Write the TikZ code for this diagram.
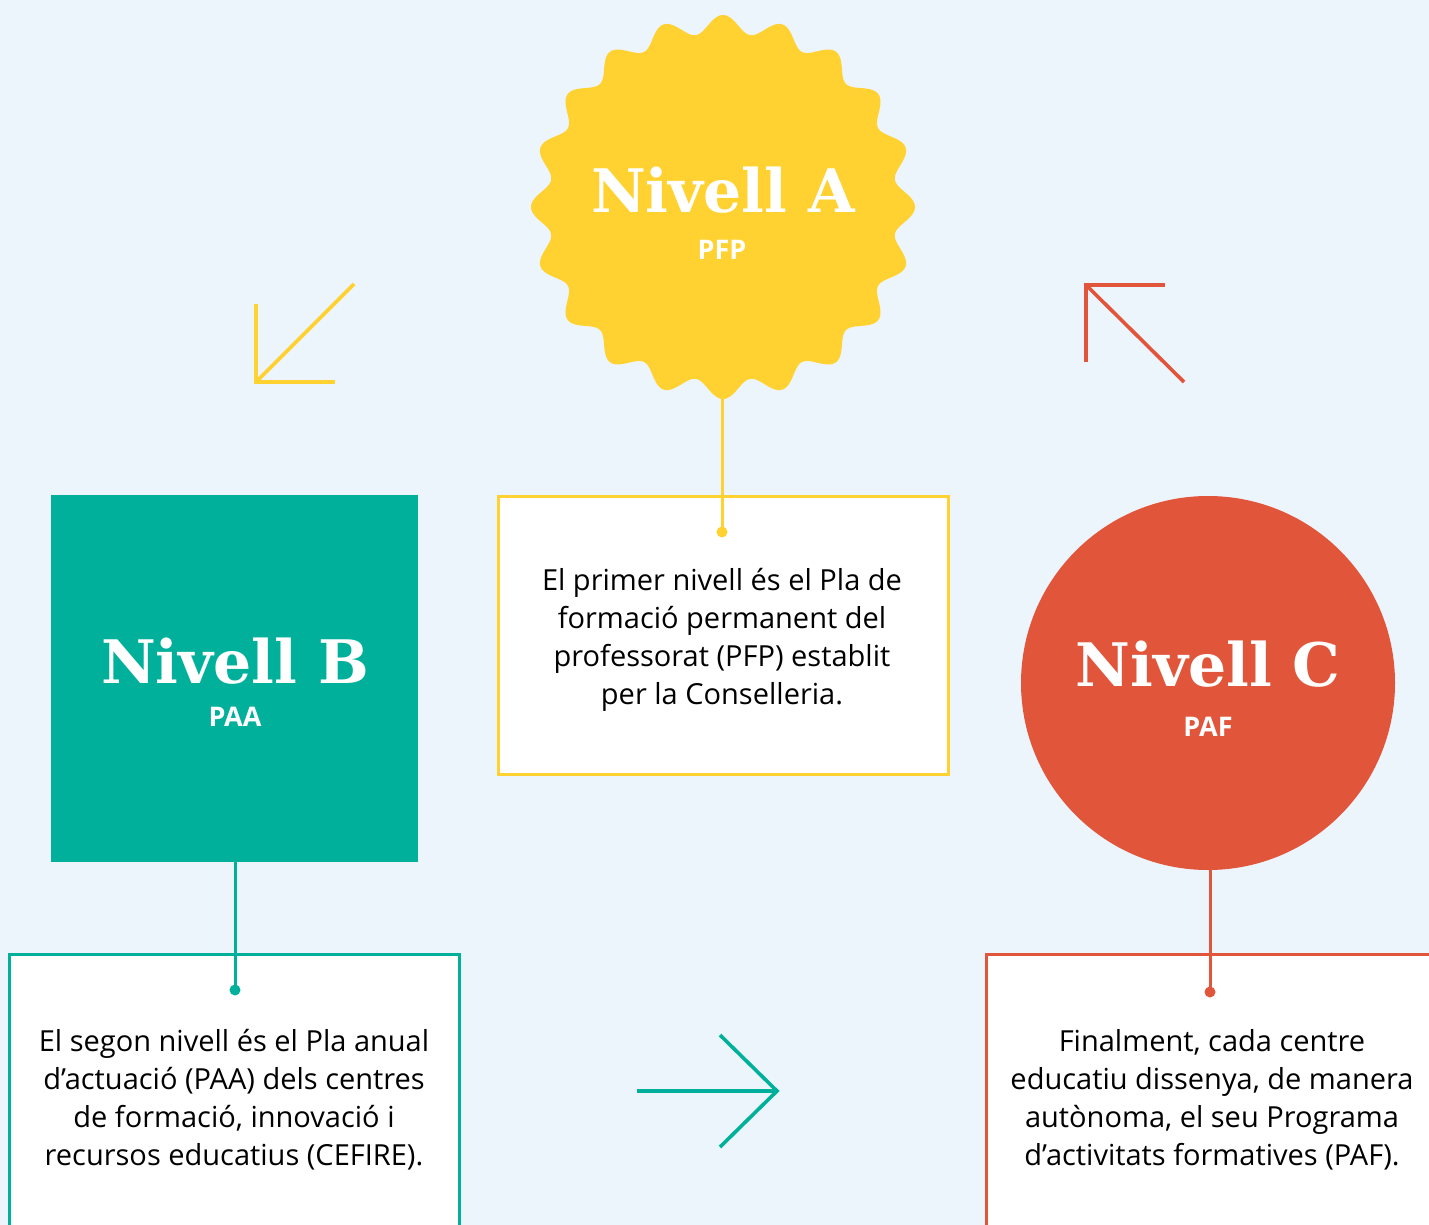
\documentclass[tikz,border=0pt]{standalone}
\usepackage{fontspec}
\setmainfont{Open Sans}
\newfontfamily\titlefont{DejaVu Serif}
\definecolor{bgc}{HTML}{EDF5FC}
\definecolor{yelc}{HTML}{FFD231}
\definecolor{tealc}{HTML}{00B09B}
\definecolor{redc}{HTML}{E1553B}
\tikzset{
  title/.style={text=white, font=\titlefont\bfseries\fontsize{60}{60}\selectfont, inner sep=0pt, anchor=base},
  subtitle/.style={text=white, font=\bfseries\fontsize{27}{27}\selectfont, inner sep=0pt, anchor=base},
  bodytext/.style={text=black, align=center, font=\fontsize{29}{38}\selectfont, inner sep=0pt},
  infobox/.style={draw=#1, line width=3pt, fill=white, anchor=north west, inner sep=0pt},
  conn/.style={draw=#1, line width=3pt},
  arrowline/.style={draw=#1, line width=3.6pt, line cap=butt, line join=miter},
}
\begin{document}
\begin{tikzpicture}[x=1pt,y=-1pt]
\useasboundingbox (0,0) rectangle (1429,1225);
\clip (0,0) rectangle (1429,1225);
\fill[bgc] (0,0) rectangle (1429,1225);

% Nivell A (star)
\fill[yelc] plot[domain=0:360, samples=721, smooth]
  ({723+(183+9*cos(20*\x))*cos(\x+90)}, {207+(183+9*cos(20*\x))*sin(\x+90)}) -- cycle;
\node[circle, minimum size=384pt, inner sep=0pt] (A) at (723,207) {};
\node[title] (Atitle) at (723,212) {Nivell A};
\node[subtitle] (Asub) at (722,259) {PFP};

% Nivell B (square)
\node[fill=tealc, minimum size=367pt, inner sep=0pt, anchor=north west] (B) at (51,495) {};
\node[title] (Btitle) at (235,683) {Nivell B};
\node[subtitle] (Bsub) at (235,726) {PAA};

% Nivell C (circle)
\node[circle, fill=redc, minimum size=374pt, inner sep=0pt] (C) at (1208,683) {};
\node[title] (Ctitle) at (1208,686) {Nivell C};
\node[subtitle] (Csub) at (1208,736) {PAF};

% Info boxes
\node[infobox=yelc, minimum width=450pt, minimum height=278pt] (Abox) at (497,495) {};
\node[infobox=tealc, minimum width=450pt, minimum height=300pt] (Bbox) at (8,953) {};
\node[infobox=redc, minimum width=470pt, minimum height=300pt] (Cbox) at (985,953) {};

\node[bodytext] (Atext) at (722,640) {El primer nivell és el Pla de\\formació permanent del\\professorat (PFP) establit\\per la Conselleria.};
\node[bodytext] (Btext) at (234,1100) {El segon nivell és el Pla anual\\d’actuació (PAA) dels centres\\de formació, innovació i\\recursos educatius (CEFIRE).};
\node[bodytext] (Ctext) at (1212,1100) {Finalment, cada centre\\educatiu dissenya, de manera\\autònoma, el seu Programa\\d’activitats formatives (PAF).};

% Connectors
\coordinate (Adot) at (722,532);
\coordinate (Bdot) at (235,990);
\coordinate (Cdot) at (1210,992);
\draw[conn=yelc] (A.south -| Adot) -- (Adot);
\fill[yelc] (Adot) circle (5.5pt);
\draw[conn=tealc] (B.south -| Bdot) -- (Bdot);
\fill[tealc] (Bdot) circle (5.5pt);
\draw[conn=redc] (C.south -| Cdot) -- (Cdot);
\fill[redc] (Cdot) circle (5.5pt);

% Arrows
\coordinate (ya1) at (354,284); \coordinate (ya2) at (256,382);
\draw[arrowline=yelc] (ya1) -- (ya2);
\draw[arrowline=yelc] (256,304) -- (ya2) -- (335,382);

\coordinate (ra1) at (1184,382); \coordinate (ra2) at (1086,285);
\draw[arrowline=redc] (ra1) -- (ra2);
\draw[arrowline=redc] (1086,362) -- (ra2) -- (1165,285);

\coordinate (ta1) at (637,1091); \coordinate (ta2) at (777,1091);
\draw[arrowline=tealc] (ta1) -- (ta2);
\draw[arrowline=tealc] (720,1035) -- (ta2) -- (720,1147);
\end{tikzpicture}
\end{document}
